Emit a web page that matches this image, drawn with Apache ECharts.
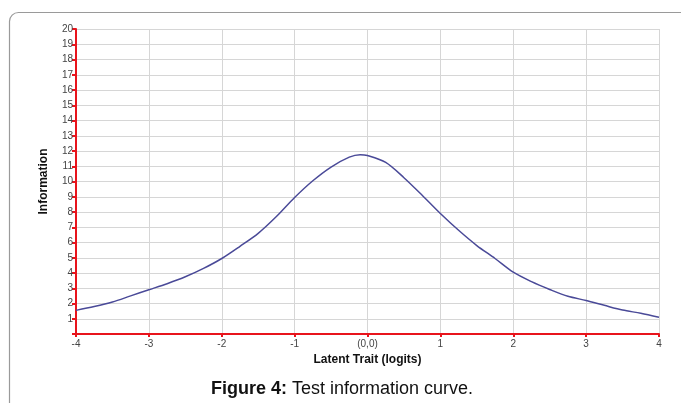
<!DOCTYPE html>
<html><head><meta charset="utf-8">
<script src="https://cdn.jsdelivr.net/npm/echarts@6/dist/echarts.min.js"></script>
<style>html,body{margin:0;padding:0;background:#fff}#c{width:681px;height:403px}</style>
</head><body><div id="c"></div>
<script>
const traitX = [-4,-3.75,-3.5,-3.25,-3,-2.75,-2.5,-2.25,-2,-1.75,-1.5,-1.25,-1,-0.75,-0.5,-0.25,-0.1,0,0.25,0.5,0.75,1,1.25,1.5,1.75,2,2.25,2.5,2.75,3,3.25,3.5,3.75,4];
const information = [1.55,1.8,2.1,2.5,2.9,3.3,3.75,4.3,4.95,5.75,6.6,7.7,8.95,10.05,10.95,11.6,11.76,11.7,11.25,10.25,9.1,7.9,6.8,5.8,4.95,4.05,3.43,2.92,2.47,2.2,1.88,1.57,1.36,1.1];
const xTickLabels = ['-4','-3','-2','-1','(0,0)','1','2','3','4'];
const yTickLabels = ['','1','2','3','4','5','6','7','8','9','10','11','12','13','14','15','16','17','18','19','20'];

const chart = echarts.init(document.getElementById('c'), null, {renderer:'canvas'});
chart.setOption({
  animation:false,
  backgroundColor:'#fff',
  graphic:[{type:'rect',shape:{x:9.5,y:12.5,width:720,height:440,r:9},style:{fill:'none',stroke:'#9a9a9a',lineWidth:1.2},z:-1}],
  title:{
    text:'{b|Figure 4:} Test information curve.',
    left:211, top:380, padding:0,
    textStyle:{fontFamily:'Liberation Sans, Arial, sans-serif',fontSize:18,fontWeight:'normal',color:'#111',
      rich:{b:{fontFamily:'Liberation Sans, Arial, sans-serif',fontSize:18,fontWeight:'bold',color:'#111'}}}
  },
  grid:{left:76,right:22,top:29,bottom:69,containLabel:false},
  xAxis:{
    type:'value',min:-4,max:4,interval:1,
    name:'Latent Trait (logits)',nameLocation:'middle',nameGap:18,
    nameTextStyle:{fontFamily:'Liberation Sans, Arial, sans-serif',fontSize:12,fontWeight:'bold',color:'#111'},
    axisLine:{show:true,onZero:false,lineStyle:{color:'#e8141c',width:2}},
    axisTick:{show:true,length:3,lineStyle:{color:'#e8141c',width:2}},
    axisLabel:{fontFamily:'Liberation Sans, Arial, sans-serif',fontSize:10,color:'#444',margin:5,
      formatter:v=>xTickLabels[Math.round(v+4)]},
    splitLine:{show:true,lineStyle:{color:'#d6d6d6',width:1}}
  },
  yAxis:{
    type:'value',min:0,max:20,interval:1,
    name:'Information',nameLocation:'middle',nameGap:26,
    nameTextStyle:{fontFamily:'Liberation Sans, Arial, sans-serif',fontSize:12,fontWeight:'bold',color:'#111'},
    axisLine:{show:true,onZero:false,lineStyle:{color:'#e8141c',width:2}},
    axisTick:{show:true,length:4,lineStyle:{color:'#e8141c',width:2}},
    axisLabel:{fontFamily:'Liberation Sans, Arial, sans-serif',fontSize:10,color:'#444',margin:3,
      formatter:v=>yTickLabels[Math.round(v)]},
    splitLine:{show:true,lineStyle:{color:'#d6d6d6',width:1}}
  },
  series:[{
    type:'line',smooth:0.3,symbol:'none',
    data:traitX.map((x,i)=>[x,information[i]]),
    lineStyle:{color:'#4a4a98',width:1.5}
  }]
});
</script></body></html>
